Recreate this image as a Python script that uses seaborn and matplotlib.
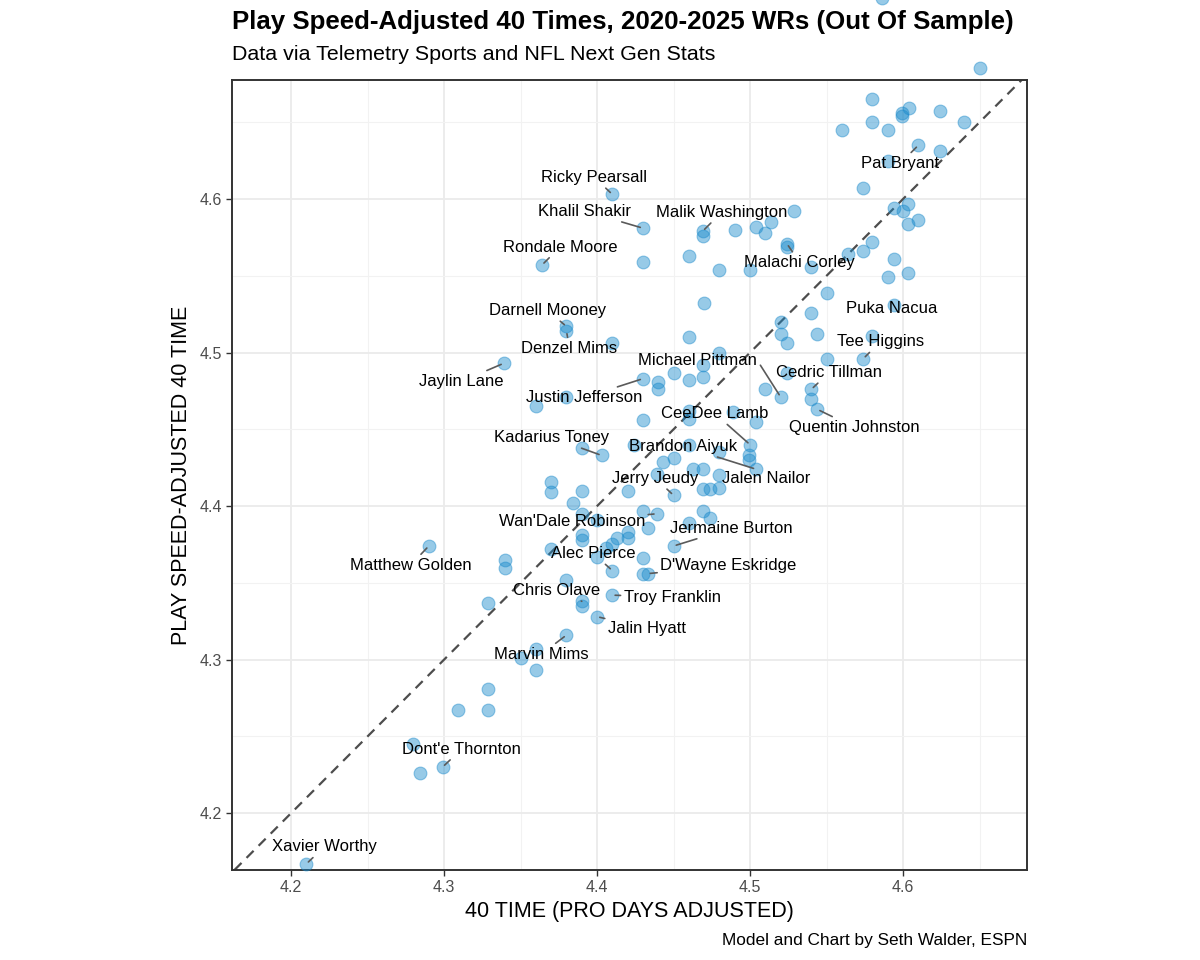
# Play speed-adjusted 40 times vs pro day 40 times (WRs 2020-2025)
import numpy as np
import pandas as pd
import matplotlib
matplotlib.use("Agg")
import matplotlib.pyplot as plt
import seaborn as sns

# 40 time (pro days adjusted) and play speed-adjusted 40 time
forty_time = [
    4.650, 4.586, 4.580, 4.604, 4.599, 4.599, 4.624, 4.580, 4.590, 4.560,
    4.640, 4.610, 4.624, 4.590, 4.574, 4.410, 4.529, 4.594, 4.603, 4.600,
    4.603, 4.610, 4.430, 4.469, 4.469, 4.490, 4.504, 4.514, 4.510, 4.524,
    4.524, 4.580, 4.574, 4.564, 4.594, 4.590, 4.603, 4.540, 4.500, 4.480,
    4.460, 4.430, 4.364, 4.550, 4.470, 4.540, 4.520, 4.520, 4.524, 4.544,
    4.594, 4.580, 4.460, 4.410, 4.380, 4.380, 4.550, 4.574, 4.524, 4.510,
    4.520, 4.540, 4.540, 4.544, 4.504, 4.500, 4.499, 4.499, 4.504, 4.480,
    4.469, 4.469, 4.460, 4.450, 4.440, 4.440, 4.430, 4.380, 4.360, 4.339,
    4.489, 4.460, 4.460, 4.430, 4.390, 4.403, 4.424, 4.460, 4.480, 4.443,
    4.450, 4.463, 4.469, 4.480, 4.439, 4.420, 4.450, 4.469, 4.474, 4.480,
    4.370, 4.370, 4.390, 4.384, 4.390, 4.430, 4.439, 4.469, 4.474, 4.433,
    4.460, 4.450, 4.390, 4.390, 4.400, 4.420, 4.420, 4.413, 4.410, 4.406,
    4.400, 4.410, 4.370, 4.380, 4.390, 4.390, 4.410, 4.400, 4.380, 4.430,
    4.430, 4.433, 4.329, 4.340, 4.340, 4.290, 4.360, 4.350, 4.360, 4.329,
    4.309, 4.329, 4.280, 4.284, 4.299, 4.210,
]
adj_forty_time = [
    4.685, 4.731, 4.665, 4.659, 4.656, 4.654, 4.657, 4.650, 4.645, 4.645,
    4.650, 4.635, 4.631, 4.625, 4.607, 4.603, 4.592, 4.594, 4.597, 4.592,
    4.584, 4.586, 4.581, 4.579, 4.576, 4.580, 4.582, 4.585, 4.578, 4.571,
    4.569, 4.572, 4.566, 4.564, 4.561, 4.549, 4.552, 4.556, 4.554, 4.554,
    4.563, 4.559, 4.557, 4.539, 4.532, 4.526, 4.520, 4.512, 4.506, 4.512,
    4.531, 4.511, 4.510, 4.506, 4.517, 4.514, 4.496, 4.496, 4.487, 4.476,
    4.471, 4.476, 4.470, 4.463, 4.455, 4.440, 4.433, 4.430, 4.424, 4.500,
    4.492, 4.484, 4.482, 4.487, 4.481, 4.476, 4.483, 4.471, 4.465, 4.493,
    4.461, 4.462, 4.457, 4.456, 4.438, 4.433, 4.440, 4.440, 4.435, 4.429,
    4.431, 4.424, 4.424, 4.420, 4.421, 4.410, 4.407, 4.411, 4.411, 4.412,
    4.416, 4.409, 4.410, 4.402, 4.395, 4.397, 4.395, 4.397, 4.392, 4.386,
    4.389, 4.374, 4.381, 4.378, 4.391, 4.383, 4.379, 4.379, 4.375, 4.373,
    4.367, 4.358, 4.372, 4.352, 4.338, 4.335, 4.342, 4.328, 4.316, 4.366,
    4.356, 4.356, 4.337, 4.365, 4.360, 4.374, 4.307, 4.301, 4.293, 4.281,
    4.267, 4.267, 4.245, 4.226, 4.230, 4.167,
]

# labelled players (name, 40 time, adjusted 40 time)
label_names = [
    "Ricky Pearsall", "Khalil Shakir", "Malik Washington", "Rondale Moore",
    "Malachi Corley", "Pat Bryant", "Darnell Mooney", "Denzel Mims",
    "Puka Nacua", "Tee Higgins", "Jaylin Lane", "Justin Jefferson",
    "Michael Pittman", "Cedric Tillman", "Quentin Johnston", "CeeDee Lamb",
    "Brandon Aiyuk", "Jalen Nailor", "Kadarius Toney", "Jerry Jeudy",
    "Wan'Dale Robinson", "Jermaine Burton", "Alec Pierce", "D'Wayne Eskridge",
    "Matthew Golden", "Chris Olave", "Troy Franklin", "Jalin Hyatt",
    "Marvin Mims", "Dont'e Thornton", "Xavier Worthy",
]
label_x = [
    4.410, 4.430, 4.469, 4.364, 4.524, 4.610, 4.380, 4.380, 4.594, 4.574,
    4.339, 4.430, 4.520, 4.540, 4.544, 4.500, 4.504, 4.499, 4.403, 4.450,
    4.439, 4.450, 4.410, 4.433, 4.290, 4.390, 4.410, 4.400, 4.380, 4.299,
    4.210,
]
label_y = [
    4.603, 4.581, 4.579, 4.557, 4.571, 4.635, 4.517, 4.514, 4.531, 4.496,
    4.493, 4.483, 4.471, 4.476, 4.463, 4.440, 4.424, 4.433, 4.433, 4.407,
    4.395, 4.374, 4.358, 4.356, 4.374, 4.338, 4.342, 4.328, 4.316, 4.230,
    4.167,
]

# label placement (pixel offsets from the point, like ggrepel put them)
label_offsets = [
    (-18, 17), (-58, 17), (19, 19), (18, 18), (13, -19), (-18, -18),
    (-19, 16), (3, -17), (-2, -4), (17, 17), (-42, -18), (-59, -19),
    (-83, 37), (18, 17), (37, -18), (-35, 31), (-73, 23), (18, -23),
    (-50, 18), (-18, 17), (-85, -8), (58, 18), (-19, 17), (81, 8),
    (-18, -19), (-25, 11), (60, -2), (50, -12), (-25, -19), (19, 18),
    (18, 17),
]
no_segment = ["Puka Nacua", "Jalen Nailor"]
segment_from_right = ["Michael Pittman"]

df = pd.DataFrame({"forty": forty_time, "adj": adj_forty_time})

sns.set_theme(style="white")
plt.rcParams["font.family"] = ["Liberation Sans", "DejaVu Sans"]
plt.rcParams["text.color"] = "black"

fig = plt.figure(figsize=(12, 9.6), dpi=100)
ax = fig.add_axes([232 / 1200, 90 / 960, 795 / 1200, 790 / 960])

# grid like theme_bw
ax.set_xlim(4.1614, 4.681)
ax.set_ylim(4.163, 4.6775)
major = [4.2, 4.3, 4.4, 4.5, 4.6]
minor = [4.25, 4.35, 4.45, 4.55, 4.65]
ax.set_xticks(major)
ax.set_yticks(major)
ax.set_xticks(minor, minor=True)
ax.set_yticks(minor, minor=True)
ax.grid(True, which="major", color="#EBEBEB", lw=1.3)
ax.grid(True, which="minor", color="#F2F2F2", lw=0.8)
ax.set_axisbelow(True)
ax.tick_params(which="major", direction="out", length=4, width=1, color="#333333",
               labelsize=11.5, labelcolor="#4D4D4D", pad=3, bottom=True, left=True)
ax.tick_params(which="minor", length=0)
for sp in ax.spines.values():
    sp.set_color("#333333")
    sp.set_linewidth(1.4)

# y = x reference
ax.axline((4.2, 4.2), slope=1, color="#4D4D4D", lw=1.6, ls=(0, (4.5, 3.2)), zorder=2)

sns.scatterplot(data=df, x="forty", y="adj", ax=ax, s=85, color="#1A8ACB",
                alpha=0.45, edgecolor="#1A8ACB", linewidth=0.8, clip_on=False,
                zorder=3, legend=False)

for name, lx, ly, off in zip(label_names, label_x, label_y, label_offsets):
    arrow = None
    if name not in no_segment:
        arrow = dict(arrowstyle="-", color="#5A5A5A", lw=1.2, shrinkA=0, shrinkB=2)
        if name in segment_from_right:
            arrow["relpos"] = (1.0, 0.5)
    ax.annotate(name, xy=(lx, ly), xytext=off, textcoords="offset pixels",
                ha="center", va="center", fontsize=12, color="black",
                arrowprops=arrow, zorder=4)

ax.set_xlabel("")
ax.set_ylabel("")
fig.text(629 / 1200, 1 - 911 / 960, "40 TIME (PRO DAYS ADJUSTED)", ha="center",
         va="center", fontsize=15.5)
fig.text(181 / 1200, 1 - 475 / 960, "PLAY SPEED-ADJUSTED 40 TIME", ha="center",
         va="center", rotation=90, fontsize=15.5)

fig.text(232 / 1200, 1 - 22 / 960,
         "Play Speed-Adjusted 40 Times, 2020-2025 WRs (Out Of Sample)",
         ha="left", va="center", fontsize=18.6, fontweight="bold")
fig.text(232 / 1200, 1 - 54 / 960, "Data via Telemetry Sports and NFL Next Gen Stats",
         ha="left", va="center", fontsize=15.4)
fig.text(1027 / 1200, 1 - 940 / 960, "Model and Chart by Seth Walder, ESPN",
         ha="right", va="center", fontsize=12.4)

fig.savefig("out.png", dpi=100)
